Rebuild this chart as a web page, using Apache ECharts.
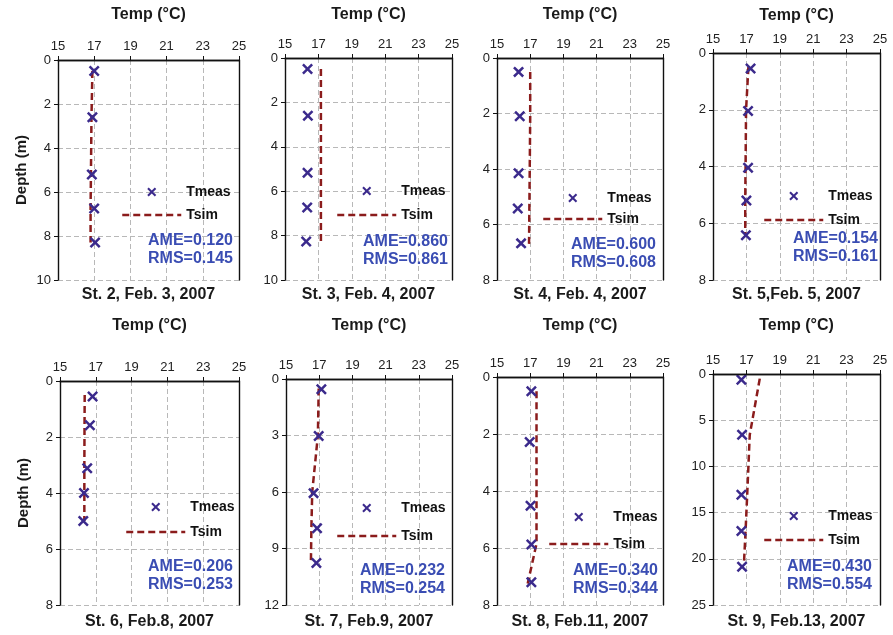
<!DOCTYPE html>
<html><head><meta charset="utf-8">
<script src="https://cdn.jsdelivr.net/npm/echarts@6/dist/echarts.min.js"></script>
<style>html,body{margin:0;padding:0;background:#fff}#c{width:893px;height:635px}</style>
</head><body><div id="c"></div>
<script>
// ---------- data ----------
const tempTicks = [15, 17, 19, 21, 23, 25];
const captions = ['St. 2, Feb. 3, 2007', 'St. 3, Feb. 4, 2007', 'St. 4, Feb. 4, 2007', 'St. 5,Feb. 5, 2007',
                  'St. 6, Feb.8, 2007', 'St. 7, Feb.9, 2007', 'St. 8, Feb.11, 2007', 'St. 9, Feb.13, 2007'];
const ameValues = ['0.120', '0.860', '0.600', '0.154', '0.206', '0.232', '0.340', '0.430'];
const rmsValues = ['0.145', '0.861', '0.608', '0.161', '0.253', '0.254', '0.344', '0.554'];
const depthMax = [10, 10, 8, 8, 8, 12, 8, 25];
const depthStep = [2, 2, 2, 2, 2, 3, 2, 5];

const measDepth2 = [0.5, 2.6, 5.2, 6.75, 8.3];
const measTemp2  = [17.0, 16.9, 16.87, 17.0, 17.05];
const simDepth2  = [0.5, 2.6, 5.2, 6.7, 8.3];
const simTemp2   = [16.9, 16.85, 16.82, 16.8, 16.8];

const measDepth3 = [0.5, 2.6, 5.17, 6.73, 8.27];
const measTemp3  = [16.35, 16.37, 16.35, 16.33, 16.27];
const simDepth3  = [0.5, 2.6, 5.2, 6.7, 8.3];
const simTemp3   = [17.15, 17.15, 17.15, 17.15, 17.15];

const measDepth4 = [0.5, 2.1, 4.15, 5.42, 6.68];
const measTemp4  = [16.3, 16.37, 16.3, 16.25, 16.45];
const simDepth4  = [0.5, 2.1, 4.15, 5.4, 6.7];
const simTemp4   = [17.0, 17.0, 16.97, 16.95, 16.93];

const measDepth5 = [0.55, 2.04, 4.04, 5.2, 6.42];
const measTemp5  = [17.25, 17.1, 17.1, 17.0, 16.97];
const simDepth5  = [0.5, 2.0, 4.0, 5.2, 6.4];
const simTemp5   = [17.12, 16.98, 16.95, 16.93, 16.93];

const measDepth6 = [0.55, 1.58, 3.12, 4.0, 5.0];
const measTemp6  = [16.82, 16.67, 16.52, 16.34, 16.3];
const simDepth6  = [0.5, 1.6, 3.1, 4.0, 5.0];
const simTemp6   = [16.38, 16.37, 16.36, 16.36, 16.36];

const measDepth7 = [0.55, 3.03, 6.06, 7.92, 9.77];
const measTemp7  = [17.13, 16.97, 16.66, 16.87, 16.83];
const simDepth7  = [0.5, 3.0, 6.0, 7.9, 9.8];
const simTemp7   = [16.97, 16.92, 16.58, 16.53, 16.5];

const measDepth8 = [0.5, 2.28, 4.52, 5.88, 7.2];
const measTemp8  = [17.07, 16.97, 17.02, 17.07, 17.07];
const simDepth8  = [0.5, 2.2, 4.5, 5.85, 7.25];
const simTemp8   = [17.38, 17.38, 17.38, 17.38, 16.85];

const measDepth9 = [0.62, 6.57, 13.06, 17.0, 20.87];
const measTemp9  = [16.7, 16.74, 16.7, 16.7, 16.74];
const simDepth9  = [0.5, 6.6, 13.0, 17.0, 20.6];
const simTemp9   = [17.8, 17.2, 17.05, 16.95, 16.85];

const measDepths = [measDepth2, measDepth3, measDepth4, measDepth5, measDepth6, measDepth7, measDepth8, measDepth9];
const measTemps  = [measTemp2, measTemp3, measTemp4, measTemp5, measTemp6, measTemp7, measTemp8, measTemp9];
const simDepths  = [simDepth2, simDepth3, simDepth4, simDepth5, simDepth6, simDepth7, simDepth8, simDepth9];
const simTemps   = [simTemp2, simTemp3, simTemp4, simTemp5, simTemp6, simTemp7, simTemp8, simTemp9];

// ---------- layout (pixels) ----------
const gridBoxes = [[58, 60, 181, 220], [285, 58, 167, 222], [497, 58, 166, 222], [713, 53, 167, 227],
                   [60, 381, 179, 224], [286, 379, 166, 226], [497, 377, 166, 228], [713, 374, 167, 231]];
const tempNameY = [15, 15, 15, 16, 326, 326, 326, 326];
const legendPos = [[121, 193, 216], [336, 192, 216], [542, 199, 220], [763, 197, 221],
                   [125, 508, 533], [336, 509, 537], [548, 518, 545], [763, 517, 541]];
const amePos = [[148, 241], [363, 242], [571, 245], [793, 239], [148, 567], [360, 571], [573, 571], [787, 567]];
const captionY = [296, 296, 296, 296, 623, 623, 623, 623];

const FF = "'Liberation Sans', Arial, Helvetica, sans-serif";
const MEAS_COLOR = '#3b2a8c';
const SIM_COLOR = '#8b1c1c';
const AME_COLOR = '#3a4db3';
const X_PATH = 'path://M1.6,0L5,3.4L8.4,0L10,1.6L6.6,5L10,8.4L8.4,10L5,6.6L1.6,10L0,8.4L3.4,5L0,1.6Z';
const SIM_DASH = [7, 4];

const grid = [], xAxis = [], yAxis = [], series = [], legend = [], title = [];
const N = gridBoxes.length;
const splitStyle = {show: true, lineStyle: {color: '#b8b8b8', width: 1, type: [5, 3]}};
const axisLineStyle = {show: true, lineStyle: {color: '#111', width: 1.4}};

gridBoxes.forEach((b, i) => {
  grid.push({left: b[0], top: b[1], width: b[2], height: b[3], show: false});
  xAxis.push({
    gridIndex: i, type: 'value', position: 'top', min: tempTicks[0], max: tempTicks[tempTicks.length - 1],
    interval: tempTicks[1] - tempTicks[0],
    name: 'Temp (°C)', nameLocation: 'middle', nameGap: b[1] - tempNameY[i] - 8,
    nameTextStyle: {fontFamily: FF, fontWeight: 'bold', fontSize: 16, color: '#1a1a1a'},
    axisLine: axisLineStyle,
    axisTick: {show: true, length: 4, lineStyle: {color: '#111', width: 1}},
    axisLabel: {fontFamily: FF, fontSize: 13, color: '#222', margin: 7},
    splitLine: splitStyle
  });
  yAxis.push({
    gridIndex: i, type: 'value', inverse: true, min: 0, max: depthMax[i], interval: depthStep[i],
    name: (i % 4 === 0) ? 'Depth (m)' : '', nameLocation: 'middle', nameGap: 29, nameRotate: 90,
    nameTextStyle: {fontFamily: FF, fontWeight: 'bold', fontSize: 15, color: '#1a1a1a'},
    axisLine: axisLineStyle,
    axisTick: {show: true, length: 4, lineStyle: {color: '#111', width: 1}},
    axisLabel: {fontFamily: FF, fontSize: 13, color: '#222', margin: 7},
    splitLine: splitStyle
  });
  series.push({
    name: 'Tsim', type: 'line', xAxisIndex: i, yAxisIndex: i, z: 2,
    data: simTemps[i].map((t, k) => [t, simDepths[i][k]]),
    symbol: 'none', showSymbol: false, silent: true,
    lineStyle: {color: SIM_COLOR, width: 2.5, type: SIM_DASH},
    itemStyle: {color: SIM_COLOR}
  });
  series.push({
    name: 'Tmeas', type: 'scatter', xAxisIndex: i, yAxisIndex: i, z: 3,
    data: measTemps[i].map((t, k) => [t, measDepths[i][k]]),
    symbol: X_PATH, symbolSize: 11, symbolKeepAspect: true,
    itemStyle: {color: MEAS_COLOR, opacity: 1}
  });
  const lp = legendPos[i];
  legend.push({
    orient: 'vertical', left: lp[0], top: lp[1] - 8, padding: 0,
    itemWidth: 59, itemHeight: 9, itemGap: (lp[2] - lp[1]) - 14,
    selectedMode: false,
    data: [
      {name: 'Tmeas'},
      {name: 'Tsim', itemStyle: {color: 'rgba(0,0,0,0)', opacity: 0, borderWidth: 0},
       lineStyle: {color: SIM_COLOR, width: 2.5, type: SIM_DASH}}
    ],
    textStyle: {fontFamily: FF, fontWeight: 'bold', fontSize: 14, color: '#111'}
  });
  title.push({
    text: 'AME=' + ameValues[i] + '\nRMS=' + rmsValues[i],
    left: amePos[i][0], top: amePos[i][1] - 9, padding: 0,
    textStyle: {fontFamily: FF, fontWeight: 'bold', fontSize: 16, lineHeight: 18, color: AME_COLOR}
  });
  title.push({
    text: captions[i], left: b[0] + b[2] / 2, top: captionY[i] - 9, textAlign: 'center', padding: 0,
    textStyle: {fontFamily: FF, fontWeight: 'bold', fontSize: 16, color: '#1a1a1a'}
  });
});
// frame axes (bottom / right edges of each panel box)
gridBoxes.forEach((b, i) => {
  xAxis.push({gridIndex: i, type: 'value', position: 'bottom', min: tempTicks[0], max: tempTicks[tempTicks.length - 1],
              axisLine: axisLineStyle, axisTick: {show: false}, axisLabel: {show: false}, splitLine: {show: false}, z: 5});
  yAxis.push({gridIndex: i, type: 'value', position: 'right', inverse: true, min: 0, max: depthMax[i],
              axisLine: axisLineStyle, axisTick: {show: false}, axisLabel: {show: false}, splitLine: {show: false}, z: 5});
});

const chart = echarts.init(document.getElementById('c'), null, {renderer: 'canvas'});
chart.setOption({backgroundColor: '#fff', animation: false, grid, xAxis, yAxis, series, legend, title});
</script>
</body></html>
